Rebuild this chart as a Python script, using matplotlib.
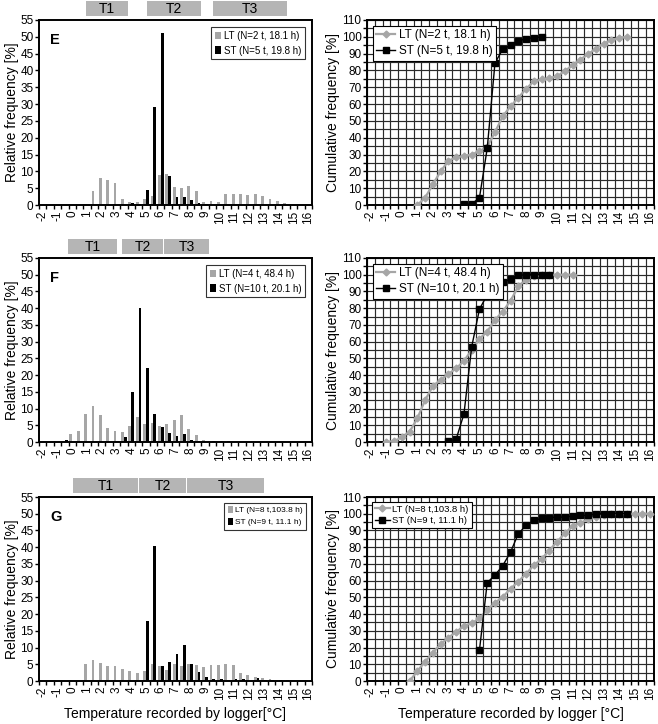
import numpy as np
import matplotlib
matplotlib.use("Agg")
import matplotlib.pyplot as plt
from matplotlib.patches import Rectangle
from matplotlib.lines import Line2D

plt.rcParams['font.family'] = ['Liberation Sans', 'DejaVu Sans']

# temperature categories (half degree classes)
categories = np.arange(-2.0, 16.5, 0.5)
int_labels = np.arange(-2, 17, 1)

# ---- panel E ----
E_lt_rel_t0 = 1.0
E_lt_rel = [0.4, 4.3, 8.1, 7.5, 6.5, 1.7, 1.0, 1.0, 1.8, 2.8, 8.8, 9.3, 5.4, 5.2,
            5.7, 4.2, 1.0, 1.2, 0.9, 3.3, 3.3, 3.3, 3.1, 3.4, 2.8, 1.8, 1.3, 0.6]
E_st_rel_t0 = 4.0
E_st_rel = [0.5, 0.3, 4.4, 29.0, 51.0, 8.5, 2.5, 2.3, 1.5, 0.5, 0.4]
E_lt_cum_t0 = 1.0
E_lt_cum = [0, 4.4, 12.4, 20, 26.3, 28.3, 29.3, 30, 32, 34.7, 43.2, 52.8, 58.6, 63.7,
            69, 73.5, 74.7, 75.5, 76.5, 79.7, 83, 86.5, 89.6, 93, 96, 98, 99.4, 100]
E_st_cum_t0 = 4.0
E_st_cum = [0.4, 0.5, 4.4, 33.7, 84.5, 92.6, 95, 97.4, 99, 99.4, 100]
E_labels = ["LT (N=2 t, 18.1 h)", "ST (N=5 t, 19.8 h)"]
E_tranges = [(0.93, 3.78), (5.07, 8.73), (9.54, 14.56)]

# ---- panel F ----
F_lt_rel_t0 = 0.0
F_lt_rel = [2.3, 3.3, 8.3, 10.7, 8.0, 4.2, 3.2, 3.0, 4.8, 7.5, 5.3, 5.7, 4.9, 5.3,
            6.6, 8.0, 3.8, 2.1, 0.5]
F_st_rel_temps = [-0.5, 3.0, 3.5, 4.0, 4.5, 5.0, 5.5, 6.0, 6.5, 7.0, 7.5, 8.0, 8.5,
                  9.0, 9.5, 10.0, 10.5]
F_st_rel = [0.5, 0.3, 1.4, 15.0, 40.2, 22.2, 8.5, 4.6, 2.8, 1.8, 2.4, 0.6, 0.2,
            0.1, 0.2, 0.2, 0.2]
F_lt_cum_t0 = -1.0
F_lt_cum = [0, 0.6, 2.8, 6.2, 14.2, 25.1, 33.5, 37.1, 40.7, 44, 48.5, 55, 61.7, 66,
            73, 78, 84.4, 93, 97, 99, 100, 100, 100, 100, 100]
F_st_cum_t0 = 3.0
F_st_cum = [0.4, 1.8, 16.8, 57, 79.4, 88, 92.6, 95.4, 97.4, 99.6, 100, 100, 100, 100]
F_labels = ["LT (N=4 t, 48.4 h)", "ST (N=10 t, 20.1 h)"]
F_tranges = [(-0.29, 3.04), (3.37, 6.15), (6.22, 9.27)]

# ---- panel G ----
G_lt_rel_t0 = 1.0
G_lt_rel = [5.0, 6.4, 5.3, 4.6, 4.5, 3.5, 3.1, 2.3, 3.1, 5.0, 4.5, 3.2, 5.0, 4.4,
            5.0, 4.8, 4.2, 4.8, 4.7, 5.1, 4.7, 2.3, 1.8, 1.3, 0.8, 0.6, 0.3, 0.2]
G_st_rel_t0 = 5.0
G_st_rel = [18.0, 40.5, 4.6, 5.8, 8.0, 10.8, 5.2, 2.8, 1.3, 0.5, 0.5, 0.2, 0.7, 0.5,
            0.1, 1.0, 0.2, 0.3, 0.2, 0.2]
G_lt_cum_t0 = 0.5
G_lt_cum = [0, 6, 11.6, 17, 22, 26, 29.3, 33, 34.5, 37.5, 42.4, 46.8, 50.2, 55.2,
            59.4, 64.1, 69.1, 73, 78, 83.3, 88.2, 92.6, 94.6, 96.6, 98, 99, 99.6,
            100, 100, 100, 100, 100]
G_st_cum_t0 = 5.0
G_st_cum = [18.5, 58.8, 63.3, 69, 77, 88, 93, 96, 97.2, 97.6, 98, 98, 98.6, 99, 99,
            100, 100, 100, 100, 100]
G_labels = ["LT (N=8 t,103.8 h)", "ST (N=9 t, 11.1 h)"]
G_tranges = [(0.05, 4.46), (4.53, 7.71), (7.78, 13.0)]

GRAY = '#a6a6a6'
BOXGRAY = '#b5b5b5'
W, H = 658, 724
TICKFS = 8.5


def temps_from(t0, vals):
    return t0 + 0.5 * np.arange(len(vals))


def px_axes(fig, x0, y0, x1, y1):
    return fig.add_axes([x0 / W, 1 - y1 / H, (x1 - x0) / W, (y1 - y0) / H])


def style_xaxis(ax):
    ax.set_xlim(-2.25, 16.25)
    bounds = np.arange(-2.25, 16.5, 0.5)
    ax.set_xticks(bounds)
    ax.set_xticklabels([])
    ax.set_xticks(int_labels, minor=True)
    ax.set_xticklabels([str(v) for v in int_labels], minor=True, rotation=90, fontsize=TICKFS)
    ax.tick_params(axis='x', which='major', length=3, width=1, direction='out')
    ax.tick_params(axis='x', which='minor', length=0, pad=4)
    for s in ax.spines.values():
        s.set_linewidth(1.4)


def plot_hist(ax, letter, lt_t, lt, st_t, st, labels, tranges, fs_leg):
    bw = 0.19
    b1 = ax.bar(np.asarray(lt_t) - bw / 2, lt, width=bw, color=GRAY, linewidth=0)
    b2 = ax.bar(np.asarray(st_t) + bw / 2, st, width=bw, color='black', linewidth=0)
    style_xaxis(ax)
    ax.set_ylim(0, 55)
    ax.set_yticks(np.arange(0, 60, 5))
    ax.tick_params(axis='y', labelsize=TICKFS, length=3, width=1, pad=1)
    ax.set_ylabel("Relative frequency [%]", fontsize=10, labelpad=1)
    ax.text(0.04, 0.93, letter, transform=ax.transAxes, fontsize=10.5,
            fontweight='bold', va='top', ha='left')
    leg = ax.legend([b1, b2], labels, loc='upper right', fontsize=fs_leg,
                    frameon=True, fancybox=False, edgecolor='black',
                    handlelength=0.6, handleheight=0.8, handletextpad=0.3,
                    borderpad=0.4, labelspacing=0.5, borderaxespad=0.7)
    leg.get_frame().set_linewidth(0.8)
    for (a, b), name in zip(tranges, ["T1", "T2", "T3"]):
        ax.add_patch(Rectangle((a, 1.02), b - a, 0.085, transform=ax.get_xaxis_transform(),
                               facecolor=BOXGRAY, edgecolor='none', clip_on=False))
        ax.text((a + b) / 2, 1.062, name, transform=ax.get_xaxis_transform(),
                ha='center', va='center', fontsize=10)


def plot_cum(ax, lt_t, lt, st_t, st, labels, fs_leg):
    ax.plot(lt_t, lt, '-', color=GRAY, lw=1.6, marker='D', ms=3.5,
            mfc=GRAY, mec=GRAY, zorder=3)
    ax.plot(st_t, st, '-', color='black', lw=1.0, marker='s', ms=4.5,
            mfc='black', mec='black', zorder=4)
    style_xaxis(ax)
    ax.set_ylim(0, 110)
    ax.set_yticks(np.arange(0, 120, 10))
    ax.set_yticks(np.arange(5, 110, 10), minor=True)
    ax.tick_params(axis='y', which='both', labelsize=TICKFS, length=3, width=1, pad=1)
    ax.grid(True, which='major', axis='both', color='#2a2a2a', lw=0.85)
    ax.grid(True, which='minor', axis='y', color='#2a2a2a', lw=0.85)
    ax.set_axisbelow(True)
    ax.set_ylabel("Cumulative frequency [%]", fontsize=10, labelpad=1)
    handles = [Line2D([], [], color=GRAY, lw=1.6, marker='D', ms=3.5, mfc=GRAY, mec=GRAY),
               Line2D([], [], color='black', lw=1.0, marker='s', ms=4.5)]
    leg = ax.legend(handles, labels, loc='upper left', fontsize=fs_leg,
                    frameon=True, fancybox=False, edgecolor='black', framealpha=1,
                    handlelength=1.6, handletextpad=0.3, borderpad=0.3,
                    labelspacing=0.3, borderaxespad=0.5)
    leg.get_frame().set_linewidth(0.8)


fig = plt.figure(figsize=(W / 100, H / 100), dpi=100)

rows = [
    (20, 205, "E", E_lt_rel_t0, E_lt_rel, temps_from(E_st_rel_t0, E_st_rel), E_st_rel,
     E_lt_cum_t0, E_lt_cum, E_st_cum_t0, E_st_cum, E_labels, E_tranges, 7.0, 8.5),
    (258, 442, "F", F_lt_rel_t0, F_lt_rel, F_st_rel_temps, F_st_rel,
     F_lt_cum_t0, F_lt_cum, F_st_cum_t0, F_st_cum, F_labels, F_tranges, 7.0, 8.5),
    (497, 681, "G", G_lt_rel_t0, G_lt_rel, temps_from(G_st_rel_t0, G_st_rel), G_st_rel,
     G_lt_cum_t0, G_lt_cum, G_st_cum_t0, G_st_cum, G_labels, G_tranges, 6.0, 6.8),
]

for (y0, y1, letter, lrt0, lr, srt, sr, lct0, lc, sct0, sc, labels, tr, fsl, fsr) in rows:
    axl = px_axes(fig, 39, y0, 312, y1)
    plot_hist(axl, letter, temps_from(lrt0, lr), lr, srt, sr, labels, tr, fsl)
    axr = px_axes(fig, 367, y0, 654, y1)
    plot_cum(axr, temps_from(lct0, lc), lc, temps_from(sct0, sc), sc, labels, fsr)
    if letter == "G":
        axl.set_xlabel("Temperature recorded by logger[°C]", fontsize=10, labelpad=5)
        axr.set_xlabel("Temperature recorded by logger [°C]", fontsize=10, labelpad=5)

fig.savefig("out.png", dpi=100)
